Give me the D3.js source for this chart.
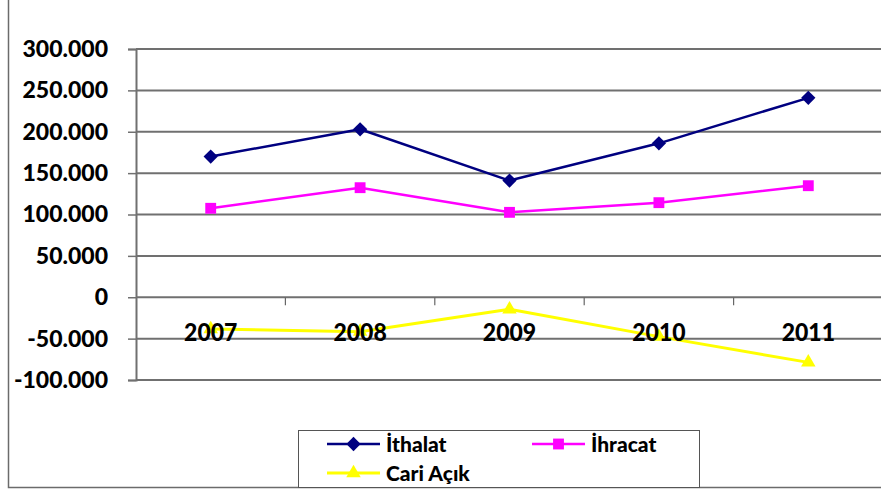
<!DOCTYPE html>
<html>
<head>
<meta charset="utf-8">
<script src="https://cdn.jsdelivr.net/npm/d3@7"></script>
<style>
  html, body { margin: 0; padding: 0; background: #fff; }
  svg { display: block; }
  text { font-family: Lato, "Open Sans", sans-serif; font-weight: 900; fill: #000; }
</style>
</head>
<body>
<svg id="chart" width="881" height="490"></svg>
<script>
// Years on the category axis
const years = ["2007", "2008", "2009", "2010", "2011"];
// Series values (million $)
const ithalat = [170000, 203000, 141000, 186000, 241000];
const ihracat = [107500, 132400, 102600, 114300, 134800];
const cariAcik = [-38400, -41600, -14600, -47600, -78700];
// Value axis ticks
const yTicks = [-100000, -50000, 0, 50000, 100000, 150000, 200000, 250000, 300000];
const seriesNames = ["İthalat", "İhracat", "Cari Açık"];

const series = [
  { name: seriesNames[0], values: ithalat, color: "#000080", width: 2.5, marker: d3.symbolDiamond2, size: 130 },
  { name: seriesNames[1], values: ihracat, color: "#FF00FF", width: 2.5, marker: d3.symbolSquare2, size: 150 },
  { name: seriesNames[2], values: cariAcik, color: "#FFFF00", width: 3, marker: d3.symbolTriangle2, size: 150 }
];

const W = 881, H = 490;
const plot = { left: 136, right: 883, top: 49, bottom: 380 };

const svg = d3.select("#chart");

const tr = d3.formatLocale({ decimal: ",", thousands: ".", grouping: [3], currency: ["", ""], minus: "-" });
const fmt = tr.format(",.0f");

const x = d3.scalePoint().domain(years).range([plot.left, plot.right]).padding(0.5);
const y = d3.scaleLinear().domain([-100000, 300000]).range([plot.bottom, plot.top]);

// Outer frame (left and bottom edges)
svg.append("path")
  .attr("d", `M8.5,0 V487.5 H${W}`)
  .attr("fill", "none").attr("stroke", "#6b6b6b").attr("stroke-width", 1.5);

// Horizontal gridlines
svg.append("g").selectAll("line").data(yTicks).join("line")
  .attr("x1", plot.left).attr("x2", W)
  .attr("y1", d => y(d)).attr("y2", d => y(d))
  .attr("stroke", "#707070").attr("stroke-width", 2);

// Value axis
const yAxis = svg.append("g")
  .attr("transform", `translate(${plot.left},0)`)
  .call(d3.axisLeft(y).tickValues(yTicks).tickFormat(fmt).tickSize(8).tickPadding(20));
yAxis.select(".domain").attr("stroke", "#707070").attr("stroke-width", 2);
yAxis.selectAll(".tick line").attr("stroke", "#707070").attr("stroke-width", 1.5);
yAxis.selectAll(".tick text")
  .attr("font-family", "Lato, 'Open Sans', sans-serif")
  .attr("font-weight", 900)
  .attr("font-size", 23)
  .attr("fill", "#000");

// Category tick marks along the zero line, between years
const step = x.step();
const boundaries = years.slice(1).map(d => x(d) - step / 2);
svg.append("g").selectAll("line").data(boundaries).join("line")
  .attr("x1", d => d).attr("x2", d => d)
  .attr("y1", y(0)).attr("y2", y(0) + 8)
  .attr("stroke", "#666").attr("stroke-width", 1.2);

// Series lines and markers
const line = d3.line().x((d, i) => x(years[i])).y(d => y(d));
series.forEach(s => {
  const g = svg.append("g");
  g.append("path").datum(s.values)
    .attr("d", line).attr("fill", "none")
    .attr("stroke", s.color).attr("stroke-width", s.width)
    .attr("stroke-linejoin", "round");
  g.selectAll("path.m").data(s.values).join("path")
    .attr("class", "m")
    .attr("transform", (d, i) => `translate(${x(years[i])},${y(d)})`)
    .attr("d", d3.symbol().type(s.marker).size(s.size))
    .attr("fill", s.color);
});

// Year labels below the zero line (slightly tall lettering)
svg.append("g").selectAll("text").data(years).join("text")
  .attr("transform", d => `translate(${x(d)},${y(0) + 44}) scale(1,1.1)`)
  .attr("text-anchor", "middle")
  .attr("font-size", 23)
  .text(d => d);

// Legend
const lg = svg.append("g");
lg.append("rect")
  .attr("x", 298.5).attr("y", 430.5).attr("width", 401).attr("height", 57)
  .attr("fill", "#fff").attr("stroke", "#555").attr("stroke-width", 1);
const legendPos = [
  { lx: 327, ly: 444 },
  { lx: 532, ly: 444 },
  { lx: 327, ly: 473 }
];
series.forEach((s, i) => {
  const p = legendPos[i];
  const item = lg.append("g").attr("transform", `translate(${p.lx},${p.ly})`);
  item.append("line").attr("x1", 0).attr("x2", 53).attr("y1", 0).attr("y2", 0)
    .attr("stroke", s.color).attr("stroke-width", s.width);
  item.append("path").attr("transform", "translate(26.5,0)")
    .attr("d", d3.symbol().type(s.marker).size(s.size)).attr("fill", s.color);
  item.append("text").attr("x", 59).attr("y", 0).attr("dy", "0.36em")
    .attr("font-size", 21).text(s.name);
});
</script>
</body>
</html>
